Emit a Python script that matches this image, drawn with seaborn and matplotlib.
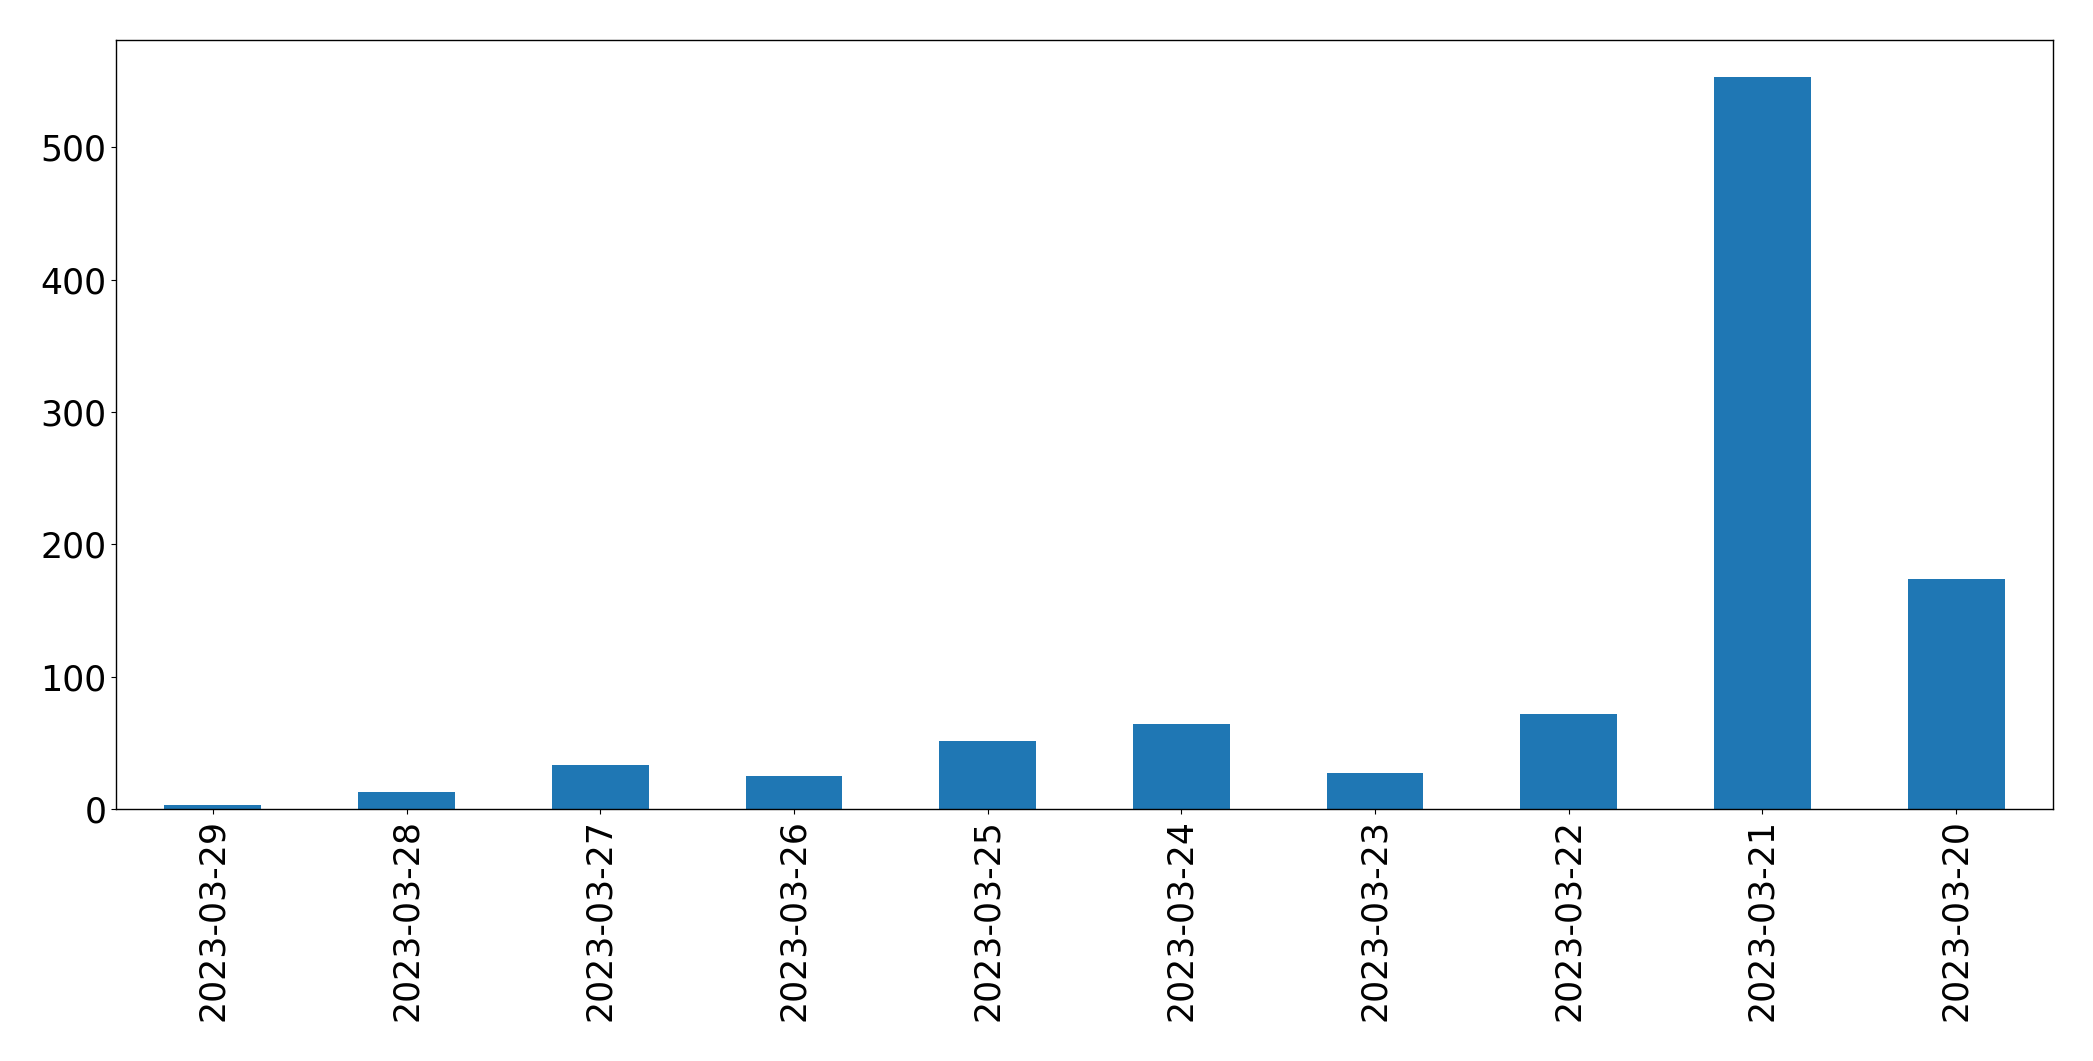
import seaborn as sns
import matplotlib.pyplot as plt
import pandas as pd

# Daily counts, newest first
dates = ['2023-03-29', '2023-03-28', '2023-03-27', '2023-03-26', '2023-03-25',
         '2023-03-24', '2023-03-23', '2023-03-22', '2023-03-21', '2023-03-20']
counts = [3, 13, 33, 25, 51, 64, 27, 72, 553, 174]

df = pd.DataFrame({'date': dates, 'count': counts})

sns.set_style('ticks', {'axes.edgecolor': 'black', 'text.color': 'black',
                        'xtick.color': 'black', 'ytick.color': 'black'})
fig = plt.figure(figsize=(20.93, 10.61), dpi=100)
ax = fig.add_axes([116 / 2093, 1 - 809 / 1061, (2053 - 116) / 2093, (809 - 40) / 1061])
sns.barplot(data=df, x='date', y='count', color='#1f77b4', saturation=1, width=0.5,
            linewidth=0, ax=ax)
ax.set_xlabel('')
ax.set_ylabel('')
ax.set_xlim(-0.5, len(dates) - 0.5)
ax.set_ylim(0, 581)
ax.set_yticks([0, 100, 200, 300, 400, 500])
ax.tick_params(axis='both', labelsize=25, colors='black')
ax.tick_params(axis='x', rotation=90)
for s in ax.spines.values():
    s.set_visible(True)
    s.set_linewidth(1)
    s.set_color('black')
fig.savefig('out.png', dpi=100)
